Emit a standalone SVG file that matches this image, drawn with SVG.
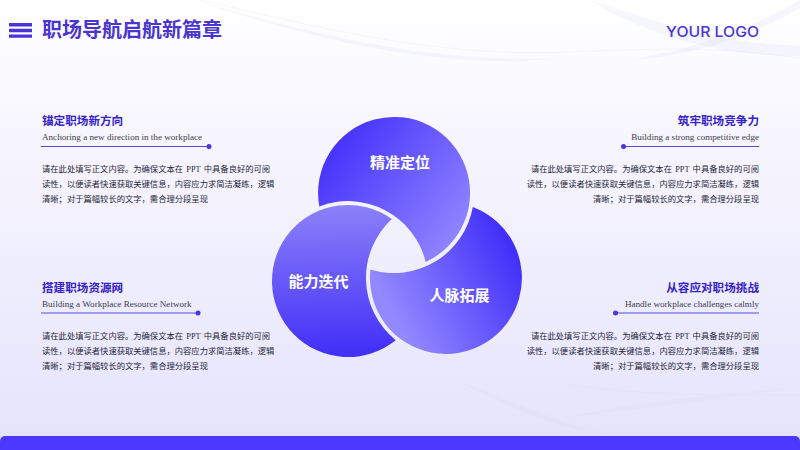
<svg xmlns="http://www.w3.org/2000/svg" width="800" height="450" viewBox="0 0 800 450">
<style>
.h{font:700 11.6px "Noto Sans CJK SC",sans-serif;fill:#3522c8}
.s{font:400 9.1px "Liberation Serif","Noto Sans CJK SC",serif;fill:#3c3c4c}
.b{font:400 8.3px "Liberation Serif","Noto Sans CJK SC",serif;fill:#26263a;word-spacing:1.200px}
.l{font:700 15px "Noto Sans CJK SC",sans-serif;fill:#fff;text-anchor:middle}
.e{text-anchor:end}
.r{stroke:#5a48d8;stroke-width:1;fill:none}
.d{fill:#4a35e0}
.w{fill:none;stroke:#d9d7f3;stroke-width:.8;opacity:.3}
.f{fill:#dcdaf6;opacity:.22}
</style>
<defs>
<linearGradient id="bg" x1="0" y1="0" x2="0" y2="1"><stop offset="0" stop-color="#ffffff"/><stop offset=".3" stop-color="#f7f6fe"/><stop offset="1" stop-color="#e5e3fc"/></linearGradient>
<linearGradient id="gt" gradientUnits="userSpaceOnUse" x1="330" y1="160" x2="450" y2="250"><stop offset="0" stop-color="#4a36fb"/><stop offset="1" stop-color="#8f86ff"/></linearGradient>
<linearGradient id="gl" gradientUnits="userSpaceOnUse" x1="345" y1="205" x2="350" y2="350"><stop offset="0" stop-color="#8b81f8"/><stop offset="1" stop-color="#4431f8"/></linearGradient>
<linearGradient id="gr" gradientUnits="userSpaceOnUse" x1="385" y1="300" x2="505" y2="235"><stop offset="0" stop-color="#9289ff"/><stop offset="1" stop-color="#4230f8"/></linearGradient>
</defs>
<rect width="800" height="450" fill="url(#bg)"/>
<g id="waves">
<path class="f" d="M590,0C640,15 700,42 800,46V56C700,56 630,25 590,0Z"/>
<path class="f" d="M630,60C700,48 760,25 800,0V8C760,32 700,55 630,60Z"/>
<path class="f" d="M195,0C300,30 420,64 560,58C440,72 300,36 195,0Z"/>
<path class="f" d="M460,382C500,395 560,425 610,435C550,428 500,402 460,382Z"/>
<path class="f" d="M565,418C640,400 720,395 790,388C720,400 640,408 565,418Z"/>
<path class="w" d="M200,0C310,25 430,58 570,52S730,50 800,58"/>
<path class="w" d="M570,385C640,395 700,395 800,395"/>
</g>
<g id="header">
<path d="M9,23h23v3.4h-23zM9,28.8h23v3.4h-23zM9,34.400h23v3.400h-23z" fill="#4a35d8"/>
<text x="42" y="37" font-family="Noto Sans CJK SC,sans-serif" font-weight="700" font-size="20" fill="#4a35d0">职场导航启航新篇章</text>
</g>
<g id="logo"><text x="666" y="36.500" font-family="Inter,sans-serif" font-weight="500" font-size="15" fill="#4a35d8" textLength="93" lengthAdjust="spacingAndGlyphs">YOUR LOGO</text></g>
<g id="node-top"><path d="M319.300,206.400A76,76 0 1 1 425.700,262A80,80 0 0 0 319.300,206.400Z" fill="url(#gt)"/><text class="l" x="400" y="167.500">精准定位</text></g>
<g id="node-left"><path d="M391.900,219A76,76 0 1 0 395.700,340.200A80,80 0 0 1 391.900,219Z" fill="url(#gl)"/><text class="l" x="318.500" y="287">能力迭代</text></g>
<g id="node-right"><path d="M472.800,206.900A76,76 0 1 1 370.400,269.500A80,80 0 0 0 472.800,206.900Z" fill="url(#gr)"/><text class="l" x="459.500" y="301">人脉拓展</text></g>
<g id="card-top-left">
<text class="h" x="42" y="125">锚定职场新方向</text>
<text class="s" x="42" y="140">Anchoring a new direction in the workplace</text>
<path class="r" d="M41,146.500H209"/><circle class="d" cx="209" cy="146.500" r="2.500"/>
<text class="b" x="42" y="171.500">请在此处填写正文内容。为确保文本在 PPT 中具备良好的可阅</text>
<text class="b" x="42" y="186.500">读性，以便读者快速获取关键信息，内容应力求简洁凝练，逻辑</text>
<text class="b" x="42" y="201.500">清晰；对于篇幅较长的文字，需合理分段呈现</text>
</g>
<g id="card-top-right">
<text class="h e" x="759" y="125">筑牢职场竞争力</text>
<text class="s e" x="759" y="140">Building a strong competitive edge</text>
<path class="r" d="M623.500,146.500H759"/><circle class="d" cx="623.500" cy="146.500" r="2.500"/>
<text class="b e" x="759" y="171.500">请在此处填写正文内容。为确保文本在 PPT 中具备良好的可阅</text>
<text class="b e" x="759" y="186.500">读性，以便读者快速获取关键信息，内容应力求简洁凝练，逻辑</text>
<text class="b e" x="759" y="201.500">清晰；对于篇幅较长的文字，需合理分段呈现</text>
</g>
<g id="card-bottom-left">
<text class="h" x="42" y="292">搭建职场资源网</text>
<text class="s" x="42" y="307">Building a Workplace Resource Network</text>
<path class="r" d="M41,313H198"/><circle class="d" cx="198" cy="313" r="2.500"/>
<text class="b" x="42" y="338.500">请在此处填写正文内容。为确保文本在 PPT 中具备良好的可阅</text>
<text class="b" x="42" y="353.500">读性，以便读者快速获取关键信息，内容应力求简洁凝练，逻辑</text>
<text class="b" x="42" y="368.500">清晰；对于篇幅较长的文字，需合理分段呈现</text>
</g>
<g id="card-bottom-right">
<text class="h e" x="759" y="292">从容应对职场挑战</text>
<text class="s e" x="759" y="307">Handle workplace challenges calmly</text>
<path class="r" d="M615.500,313H759"/><circle class="d" cx="615.500" cy="313" r="2.500"/>
<text class="b e" x="759" y="338.500">请在此处填写正文内容。为确保文本在 PPT 中具备良好的可阅</text>
<text class="b e" x="759" y="353.500">读性，以便读者快速获取关键信息，内容应力求简洁凝练，逻辑</text>
<text class="b e" x="759" y="368.500">清晰；对于篇幅较长的文字，需合理分段呈现</text>
</g>
<path id="footer" d="M0,450V441a5,5 0 0 1 5,-5H795a5,5 0 0 1 5,5V450Z" fill="#4d38ff"/>
</svg>
